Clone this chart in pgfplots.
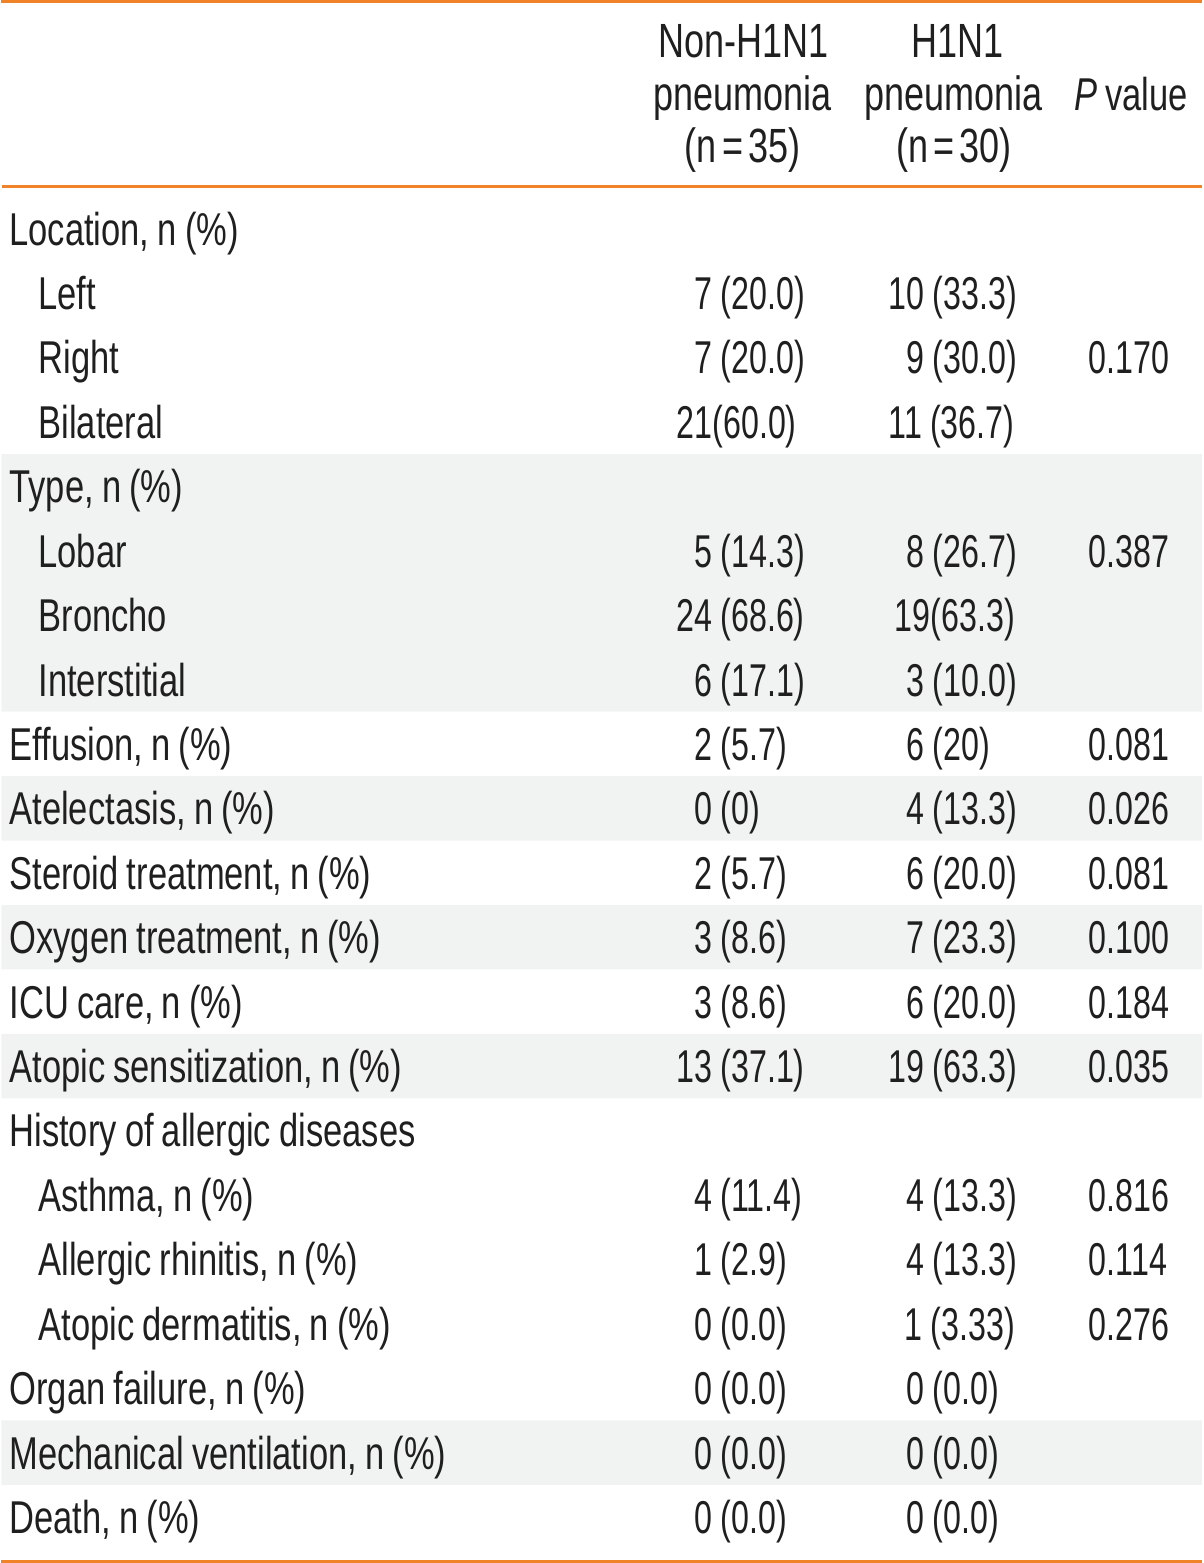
\documentclass[border=0pt]{standalone}
\usepackage{fontspec}
\setmainfont{Liberation Sans}[FakeStretch=0.75, WordSpace=0.85]
\newfontfamily\numfont{Liberation Sans}[FakeStretch=0.70, WordSpace=0.9]
\usepackage{pgfplots}
\usepackage{pgfplotstable}
\pgfplotsset{compat=1.18}
\definecolor{tabor}{RGB}{240,130,40}
\definecolor{shade}{RGB}{241,243,243}

% body cells: left x, baseline y (pixels of a 1200 x 1563 page), text
\pgfplotstableread[col sep=semicolon]{
x;y;t
8;245;Location, n (\%)
37;309.4;Left
37;373.8;Right
37;438.2;Bilateral
8;502.6;Type, n (\%)
37;567;Lobar
37;631.4;Broncho
37;695.8;Interstitial
8;760.2;Effusion, n (\%)
8;824.6;Atelectasis, n (\%)
8;889;Steroid treatment, n (\%)
8;953.4;Oxygen treatment, n (\%)
8;1017.8;ICU care, n (\%)
8;1082.2;Atopic sensitization, n (\%)
8;1146.6;History of allergic diseases
37;1211;Asthma, n (\%)
37;1275.4;Allergic rhinitis, n (\%)
37;1339.8;Atopic dermatitis, n (\%)
8;1404.2;Organ failure, n (\%)
8;1468.6;Mechanical ventilation, n (\%)
8;1533;Death, n (\%)
}\labels

\pgfplotstableread[col sep=semicolon]{
x;y;t
693;309.4;7 (20.0)
693;373.8;7 (20.0)
675;438.2;21(60.0)
693;567;5 (14.3)
675;631.4;24 (68.6)
693;695.8;6 (17.1)
693;760.2;2 (5.7)
693;824.6;0 (0)
693;889;2 (5.7)
693;953.4;3 (8.6)
693;1017.8;3 (8.6)
675;1082.2;13 (37.1)
693;1211;4 (11.4)
693;1275.4;1 (2.9)
693;1339.8;0 (0.0)
693;1404.2;0 (0.0)
693;1468.6;0 (0.0)
693;1533;0 (0.0)
}\nonhini

\pgfplotstableread[col sep=semicolon]{
x;y;t
887;309.4;10 (33.3)
905;373.8;9 (30.0)
887;438.2;11 (36.7)
905;567;8 (26.7)
893;631.4;19(63.3)
905;695.8;3 (10.0)
905;760.2;6 (20)
905;824.6;4 (13.3)
905;889;6 (20.0)
905;953.4;7 (23.3)
905;1017.8;6 (20.0)
887;1082.2;19 (63.3)
905;1211;4 (13.3)
905;1275.4;4 (13.3)
903;1339.8;1 (3.33)
905;1404.2;0 (0.0)
905;1468.6;0 (0.0)
905;1533;0 (0.0)
}\hini

\pgfplotstableread[col sep=semicolon]{
x;y;t
1087;373.8;0.170
1087;567;0.387
1087;760.2;0.081
1087;824.6;0.026
1087;889;0.081
1087;953.4;0.100
1087;1017.8;0.184
1087;1082.2;0.035
1087;1211;0.816
1087;1275.4;0.114
1087;1339.8;0.276
}\pvals

% header cells: centre x, baseline y, text
\pgfplotstableread[col sep=semicolon]{
x;y;t
742;57;Non-H1N1
741;110;pneumonia
741;162;(n\hspace{1.3pt}=\hspace{1.3pt}35)
956;57;H1N1
952;110;pneumonia
952;162;(n\hspace{1.3pt}=\hspace{1.3pt}30)
}\header

\pgfplotstableread[col sep=semicolon]{
x;y;t
1129;110;\textit{P} value
}\pheader

\begin{document}
\begin{tikzpicture}
\begin{axis}[
  scale only axis, width=300pt, height=390.75pt,
  xmin=0, xmax=1200, ymin=0, ymax=1563, y dir=reverse,
  axis lines=none, ticks=none, clip=false,
  every node near coord/.append style={inner sep=0pt, outer sep=0pt,
     font=\fontsize{11.5pt}{13pt}\selectfont, color=black!88},
]
% shaded rows
\addplot[fill=shade, draw=none] coordinates {(0,453.9) (1200,453.9) (1200,711.5) (0,711.5) (0,453.9)};
\addplot[fill=shade, draw=none] coordinates {(0,775.9) (1200,775.9) (1200,840.3) (0,840.3) (0,775.9)};
\addplot[fill=shade, draw=none] coordinates {(0,904.7) (1200,904.7) (1200,969.1) (0,969.1) (0,904.7)};
\addplot[fill=shade, draw=none] coordinates {(0,1033.5) (1200,1033.5) (1200,1097.9) (0,1097.9) (0,1033.5)};
\addplot[fill=shade, draw=none] coordinates {(0,1419.9) (1200,1419.9) (1200,1484.3) (0,1484.3) (0,1419.9)};
% rules
\addplot[tabor, line width=0.75pt] coordinates {(0,1.5) (1200,1.5)};
\addplot[tabor, line width=0.6pt] coordinates {(1,186.5) (1200,186.5)};
\addplot[tabor, line width=0.75pt] coordinates {(0,1561) (1200,1561)};
% text
\addplot[only marks, mark=none, point meta=explicit symbolic, nodes near coords,
  every node near coord/.append style={anchor=base west}]
  table[x=x, y=y, meta=t] {\labels};
\addplot[only marks, mark=none, point meta=explicit symbolic, nodes near coords,
  every node near coord/.append style={anchor=base west, font=\fontsize{11.5pt}{13pt}\numfont}]
  table[x=x, y=y, meta=t] {\nonhini};
\addplot[only marks, mark=none, point meta=explicit symbolic, nodes near coords,
  every node near coord/.append style={anchor=base west, font=\fontsize{11.5pt}{13pt}\numfont}]
  table[x=x, y=y, meta=t] {\hini};
\addplot[only marks, mark=none, point meta=explicit symbolic, nodes near coords,
  every node near coord/.append style={anchor=base west, font=\fontsize{11.5pt}{13pt}\numfont}]
  table[x=x, y=y, meta=t] {\pvals};
\addplot[only marks, mark=none, point meta=explicit symbolic, nodes near coords,
  every node near coord/.append style={anchor=base, font=\fontsize{12pt}{13pt}\selectfont}]
  table[x=x, y=y, meta=t] {\header};
\addplot[only marks, mark=none, point meta=explicit symbolic, nodes near coords,
  every node near coord/.append style={anchor=base}]
  table[x=x, y=y, meta=t] {\pheader};
\end{axis}
\end{tikzpicture}
\end{document}
